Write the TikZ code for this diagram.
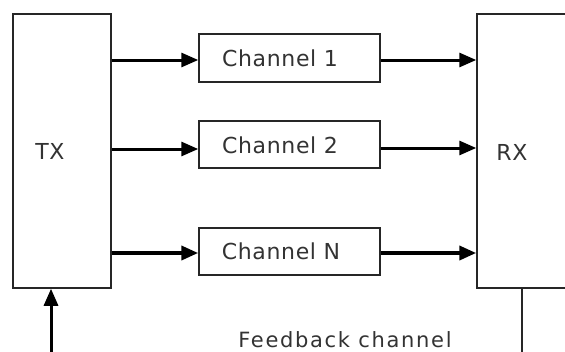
\documentclass[tikz,border=0pt]{standalone}
\usepackage{fontspec}
\setmainfont{DejaVu Sans}[LetterSpace=3]
\newfontfamily\widefont{DejaVu Sans}[LetterSpace=8]
\usetikzlibrary{arrows.meta}
\begin{document}
\begin{tikzpicture}[x=1pt,y=-1pt,
  box/.style={draw=black!85,line width=1.5pt,fill=white,inner sep=0pt},
  lbl/.style={text=black!80,font=\fontsize{22}{26}\selectfont,inner sep=0pt},
  arr/.style={draw=black,line width=3pt,-{Triangle[length=17pt,width=14pt]}},
  fb/.style={draw=black!85,line width=1.5pt}]
\clip (0,0) rectangle (565,351);
\fill[white] (0,0) rectangle (565,351);
% boxes
\node[box,minimum width=98,minimum height=274] (tx) at (62,151) {};
\node[box,minimum width=123,minimum height=274] (rx) at (538.5,151) {};
\node[box,minimum width=181,minimum height=48] (ch1) at (289.5,58) {};
\node[box,minimum width=181,minimum height=47] (ch2) at (289.5,144.5) {};
\node[box,minimum width=181,minimum height=47] (chn) at (289.5,251.5) {};
% texts
\node[lbl] (txt) at (50,151) {TX};
\node[lbl] (rxt) at (512,152) {RX};
\node[lbl] (c1t) at (280,58) {Channel 1};
\node[lbl] (c2t) at (280,145) {Channel 2};
\node[lbl] (cnt) at (281,251) {Channel N};
\node[lbl,font=\widefont\fontsize{21}{26}\selectfont,anchor=base] (fbt) at (345,347) {Feedback channel};
% arrows
\coordinate (a1) at (ch1.west |- 0,60);
\coordinate (a2) at (ch2.west |- 0,149);
\coordinate (a3) at (chn.west |- 0,253);
\coordinate (b1) at (ch1.east |- 0,60);
\coordinate (b2) at (ch2.east |- 0,148);
\coordinate (b3) at (chn.east |- 0,253);
\draw[arr] (tx.east |- a1) -- (a1);
\draw[arr] (tx.east |- a2) -- (a2);
\draw[arr,line width=3.8pt] (tx.east |- a3) -- (a3);
\draw[arr] (b1) -- (rx.west |- b1);
\draw[arr] (b2) -- (rx.west |- b2);
\draw[arr,line width=3.8pt] (b3) -- (rx.west |- b3);
% feedback
\coordinate (fin) at (51,355);
\coordinate (fout) at (522,355);
\draw[arr] (fin) -- (fin |- tx.south);
\draw[fb] (rx.south -| fout) -- (fout);
\end{tikzpicture}
\end{document}
